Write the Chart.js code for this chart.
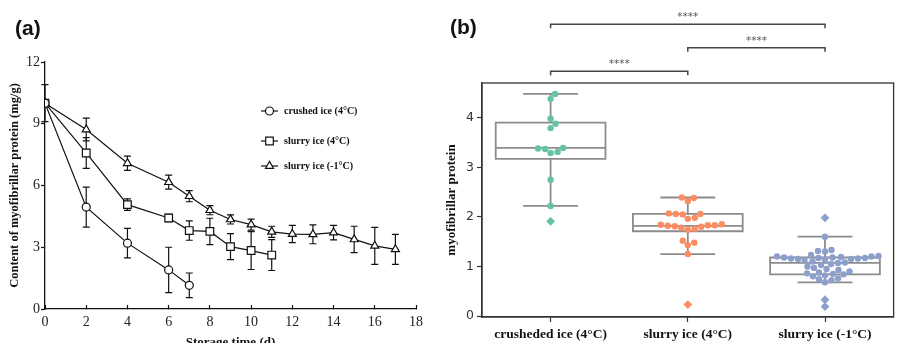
<!DOCTYPE html>
<html>
<head>
<meta charset="utf-8">
<script src="https://cdn.jsdelivr.net/npm/chart.js@4.4.1/dist/chart.umd.min.js"></script>
<style>
  html, body { margin: 0; padding: 0; background: #fff; width: 898px; height: 343px; overflow: hidden; position: relative; }
  canvas { position: absolute; top: 0; }
  .tag { position: absolute; font: bold 21px "Liberation Sans", Arial, sans-serif; line-height: 21px; color: #111; }
</style>
</head>
<body>
<canvas id="chartA" width="440" height="350" style="left:0"></canvas>
<canvas id="chartB" width="458" height="343" style="left:440px"></canvas>
<div class="tag" style="left:15px;top:17px">(a)</div>
<div class="tag" style="left:450px;top:16px">(b)</div>
<script>
// ---- panel (a): myofibrillar protein over storage time ----
const seriesNames = ['crushed ice (4°C)', 'slurry ice (4°C)', 'slurry ice (-1°C)'];

const daysCrushed = [0, 2, 4, 6, 7];
const crushed     = [10.0, 4.95, 3.2, 1.9, 1.15];
const crushedErr  = [0, 0.97, 0.72, 1.1, 0.6];

const daysSlurry4 = [0, 2, 4, 6, 7, 8, 9, 10, 11];
const slurry4     = [10.0, 7.58, 5.07, 4.42, 3.81, 3.77, 3.03, 2.84, 2.62];
const slurry4Err  = [0, 0.75, 0.28, 0.18, 0.47, 0.64, 0.63, 0.92, 0.75];

const daysSlurryM1 = [0, 2, 4, 6, 7, 8, 9, 10, 11, 12, 13, 14, 15, 16, 17];
const slurryM1     = [10.0, 8.72, 7.08, 6.16, 5.48, 4.8, 4.35, 4.1, 3.75, 3.64, 3.63, 3.71, 3.38, 3.07, 2.9];
const slurryM1Err  = [0.9, 0.55, 0.35, 0.34, 0.27, 0.22, 0.22, 0.27, 0.27, 0.42, 0.46, 0.35, 0.64, 0.9, 0.73];

const xTicksA = [0, 2, 4, 6, 8, 10, 12, 14, 16, 18];
const yTicksA = [0, 3, 6, 9, 12];

// ---- panel (b): box + swarm per treatment ----
const categories = ['crusheded ice (4°C)', 'slurry ice (4°C)', 'slurry ice (-1°C)'];
const groupCrushed = [4.48, 4.38, 3.98, 3.88, 3.79, 3.39, 3.38, 3.37, 3.31, 3.29, 2.75, 2.22, 1.91];
const groupSlurry4 = [2.39, 2.38, 2.32, 2.07, 2.06, 2.06, 2.05, 1.98, 1.96, 1.85, 1.84, 1.83, 1.83,
                      1.82, 1.81, 1.80, 1.78, 1.76, 1.74, 1.52, 1.48, 1.43, 1.25, 0.23];
const groupSlurryM1 = [1.98, 1.60, 1.33, 1.31, 1.30, 1.23, 1.21, 1.20, 1.20, 1.19, 1.18, 1.18, 1.17, 1.17,
                       1.16, 1.16, 1.15, 1.15, 1.14, 1.12, 1.10, 1.08, 1.07, 1.05, 1.03, 1.00, 0.97, 0.95,
                       0.93, 0.90, 0.88, 0.86, 0.85, 0.84, 0.82, 0.80, 0.76, 0.74, 0.72, 0.68, 0.33, 0.19];
const boxQ1   = [3.17, 1.71, 0.84];
const boxMed  = [3.39, 1.82, 1.07];
const boxQ3   = [3.90, 2.06, 1.18];
const whiskLo = [2.22, 1.25, 0.68];
const whiskHi = [4.48, 2.39, 1.60];
const sigPairs  = [[0, 1], [1, 2], [0, 2]];
const sigLabels = ['****', '****', '****'];
const yTicksB = [0, 1, 2, 3, 4];

const groupColors = ['#66c2a5', '#fc8d62', '#8da0cb'];
const serif = '"Liberation Serif", "Times New Roman", serif';

function lineSeries(label, days, vals, errs, style, radius) {
  return {
    label,
    data: days.map((d, i) => ({ x: d, y: vals[i] })),
    errors: errs,
    borderColor: '#111',
    borderWidth: 1.2,
    tension: 0,
    pointStyle: style,
    pointRadius: radius,
    pointBackgroundColor: '#fff',
    pointBorderColor: '#111',
    pointBorderWidth: 1.2,
  };
}

// vertical error bars with caps, drawn under the markers
const errorBars = {
  id: 'errorBars',
  beforeDatasetsDraw(chart) {
    const { ctx, scales: { x, y } } = chart;
    ctx.save();
    ctx.strokeStyle = '#111';
    ctx.lineWidth = 1.2;
    chart.data.datasets.forEach(ds => {
      ds.data.forEach((p, i) => {
        const e = ds.errors[i];
        if (!e) return;
        const px = x.getPixelForValue(p.x);
        const top = y.getPixelForValue(p.y + e);
        const bot = y.getPixelForValue(p.y - e);
        ctx.beginPath();
        ctx.moveTo(px, top); ctx.lineTo(px, bot);
        ctx.moveTo(px - 3.5, top); ctx.lineTo(px + 3.5, top);
        ctx.moveTo(px - 3.5, bot); ctx.lineTo(px + 3.5, bot);
        ctx.stroke();
      });
    });
    ctx.restore();
  }
};

// legend inside the plot: short line with the marker, then the label
const legendA = {
  id: 'legendA',
  afterDraw(chart) {
    const { ctx } = chart;
    const rowsY = [111, 141, 166];
    ctx.save();
    chart.data.datasets.forEach((ds, i) => {
      const y = rowsY[i];
      ctx.strokeStyle = '#111';
      ctx.lineWidth = 1.2;
      ctx.beginPath();
      ctx.moveTo(261, y); ctx.lineTo(278, y);
      ctx.stroke();
      ctx.fillStyle = '#fff';
      Chart.helpers.drawPoint(ctx, { pointStyle: ds.pointStyle, radius: ds.pointRadius, rotation: 0, borderWidth: 1.2 }, 269.5, y);
      ctx.fillStyle = '#111';
      ctx.font = 'bold 10px ' + serif;
      ctx.textBaseline = 'middle';
      ctx.fillText(ds.label, 284, y);
    });
    ctx.restore();
  }
};

new Chart(document.getElementById('chartA'), {
  type: 'line',
  data: {
    datasets: [
      lineSeries(seriesNames[0], daysCrushed, crushed, crushedErr, 'circle', 4),
      lineSeries(seriesNames[1], daysSlurry4, slurry4, slurry4Err, 'rect', 5.4),
      lineSeries(seriesNames[2], daysSlurryM1, slurryM1, slurryM1Err, 'triangle', 4.6),
    ]
  },
  options: {
    responsive: false,
    animation: false,
    devicePixelRatio: 1,
    layout: { padding: { left: 0, top: 62, right: 24, bottom: 0 } },
    plugins: { legend: { display: false }, tooltip: { enabled: false } },
    scales: {
      x: {
        type: 'linear', min: 0, max: 18,
        afterBuildTicks: s => { s.ticks = xTicksA.map(v => ({ value: v })); },
        afterFit: s => { s.height = 41; },
        grid: { drawOnChartArea: false, color: '#111', tickLength: -4, tickWidth: 1.2 },
        border: { color: '#111', width: 1.3 },
        ticks: { font: { family: serif, size: 14 }, color: '#222', padding: 9, maxRotation: 0 },
        title: { display: true, text: 'Storage time (d)', color: '#111', font: { family: serif, size: 13, weight: 'bold' }, padding: 0 }
      },
      y: {
        min: 0, max: 12,
        afterBuildTicks: s => { s.ticks = yTicksA.map(v => ({ value: v })); },
        afterFit: s => { s.width = 45; },
        grid: { drawOnChartArea: false, color: '#111', tickLength: 4, tickWidth: 1.2 },
        border: { color: '#111', width: 1.3 },
        ticks: { font: { family: serif, size: 14 }, color: '#222', padding: 1 },
        title: { display: true, text: 'Content of myofibrillar protein (mg/g)', color: '#111', font: { family: serif, size: 12.5, weight: 'bold' }, padding: { top: 7, bottom: 0 } }
      }
    }
  },
  plugins: [errorBars, legendA]
});

// ---- panel (b) plugins ----
const isOutlier = (gi, v) => v > whiskHi[gi] || v < whiskLo[gi];

// spread the points sideways so they do not overlap (beeswarm)
const swarm = {
  id: 'swarm',
  afterDatasetsUpdate(chart) {
    const gap = 6.6;
    chart.data.datasets.forEach((ds, gi) => {
      const els = chart.getDatasetMeta(gi).data;
      const order = els.map((el, i) => i).sort((a, b) => els[b].y - els[a].y);
      const placed = [];
      order.forEach(i => {
        const el = els[i];
        const cx = el.x;
        let best = cx;
        for (let k = 0; k < 400; k++) {
          const off = (k % 2 ? 1 : -1) * Math.ceil(k / 2) * 0.5;
          const tx = cx + off;
          if (placed.every(p => (p.x - tx) ** 2 + (p.y - el.y) ** 2 >= gap * gap)) { best = tx; break; }
        }
        el.x = best;
        placed.push({ x: best, y: el.y });
      });
    });
  }
};

const boxes = {
  id: 'boxes',
  beforeDatasetsDraw(chart) {
    const { ctx, scales: { x, y } } = chart;
    ctx.save();
    ctx.strokeStyle = '#8c8c8c';
    ctx.lineWidth = 1.8;
    categories.forEach((c, i) => {
      const l = x.getPixelForValue(i - 0.4), r = x.getPixelForValue(i + 0.4);
      const cl = x.getPixelForValue(i - 0.2), cr = x.getPixelForValue(i + 0.2);
      const cx = x.getPixelForValue(i);
      const q1 = y.getPixelForValue(boxQ1[i]), q3 = y.getPixelForValue(boxQ3[i]);
      const md = y.getPixelForValue(boxMed[i]);
      const lo = y.getPixelForValue(whiskLo[i]), hi = y.getPixelForValue(whiskHi[i]);
      ctx.beginPath();
      ctx.moveTo(cx, q3); ctx.lineTo(cx, hi);
      ctx.moveTo(cx, q1); ctx.lineTo(cx, lo);
      ctx.moveTo(cl, hi); ctx.lineTo(cr, hi);
      ctx.moveTo(cl, lo); ctx.lineTo(cr, lo);
      ctx.rect(l, q3, r - l, q1 - q3);
      ctx.moveTo(l, md); ctx.lineTo(r, md);
      ctx.stroke();
    });
    ctx.restore();
  }
};

// plot frame and the significance brackets above it
const frameAndSig = {
  id: 'frameAndSig',
  afterDraw(chart) {
    const { ctx, chartArea: a, scales: { x } } = chart;
    ctx.save();
    ctx.strokeStyle = '#333';
    ctx.lineWidth = 1.3;
    ctx.strokeRect(a.left, a.top, a.right - a.left, a.bottom - a.top);
    ctx.strokeStyle = '#444';
    ctx.lineWidth = 1.5;
    ctx.fillStyle = '#555';
    ctx.font = '10.5px "DejaVu Sans", sans-serif';
    ctx.textAlign = 'center';
    ctx.textBaseline = 'middle';
    sigPairs.forEach(([g1, g2], k) => {
      const by = a.top - 11.7 - k * 23.5;
      const x1 = x.getPixelForValue(g1), x2 = x.getPixelForValue(g2);
      ctx.beginPath();
      ctx.moveTo(x1, by + 4); ctx.lineTo(x1, by); ctx.lineTo(x2, by); ctx.lineTo(x2, by + 4);
      ctx.stroke();
      ctx.fillText(sigLabels[k], (x1 + x2) / 2, by - 7);
    });
    ctx.restore();
  }
};

const groups = [groupCrushed, groupSlurry4, groupSlurryM1];

new Chart(document.getElementById('chartB'), {
  type: 'scatter',
  data: {
    datasets: groups.map((vals, gi) => ({
      label: categories[gi],
      data: vals.map(v => ({ x: gi, y: v })),
      backgroundColor: groupColors[gi],
      borderColor: groupColors[gi],
      borderWidth: 0,
      pointStyle: c => isOutlier(gi, vals[c.dataIndex]) ? 'rectRot' : 'circle',
      pointRadius: c => isOutlier(gi, vals[c.dataIndex]) ? 4.4 : 3.2,
    }))
  },
  options: {
    responsive: false,
    animation: false,
    devicePixelRatio: 1,
    layout: { padding: { left: 0, top: 83, right: 2, bottom: 0 } },
    plugins: { legend: { display: false }, tooltip: { enabled: false } },
    scales: {
      x: {
        type: 'linear', min: -0.5, max: 2.5,
        afterBuildTicks: s => { s.ticks = categories.map((c, i) => ({ value: i })); },
        afterFit: s => { s.height = 26; },
        grid: { drawOnChartArea: false, color: '#333', tickLength: 5, tickWidth: 1.2 },
        border: { color: '#333', width: 1.3 },
        ticks: { callback: v => categories[v], font: { family: serif, size: 13.5, weight: 'bold' }, color: '#111', padding: 4, maxRotation: 0 }
      },
      y: {
        min: -0.02, max: 4.7,
        afterBuildTicks: s => { s.ticks = yTicksB.map(v => ({ value: v })); },
        afterFit: s => { s.width = 42; },
        grid: { drawOnChartArea: false, color: '#333', tickLength: 5, tickWidth: 1.2 },
        border: { color: '#333', width: 1.3 },
        ticks: { font: { family: '"DejaVu Sans", sans-serif', size: 12.5 }, color: '#333', padding: 3 },
        title: { display: true, text: 'myofibrillar protein', color: '#111', font: { family: serif, size: 13, weight: 'bold' }, padding: { top: 4, bottom: 0 } }
      }
    }
  },
  plugins: [swarm, boxes, frameAndSig]
});
</script>
</body>
</html>
